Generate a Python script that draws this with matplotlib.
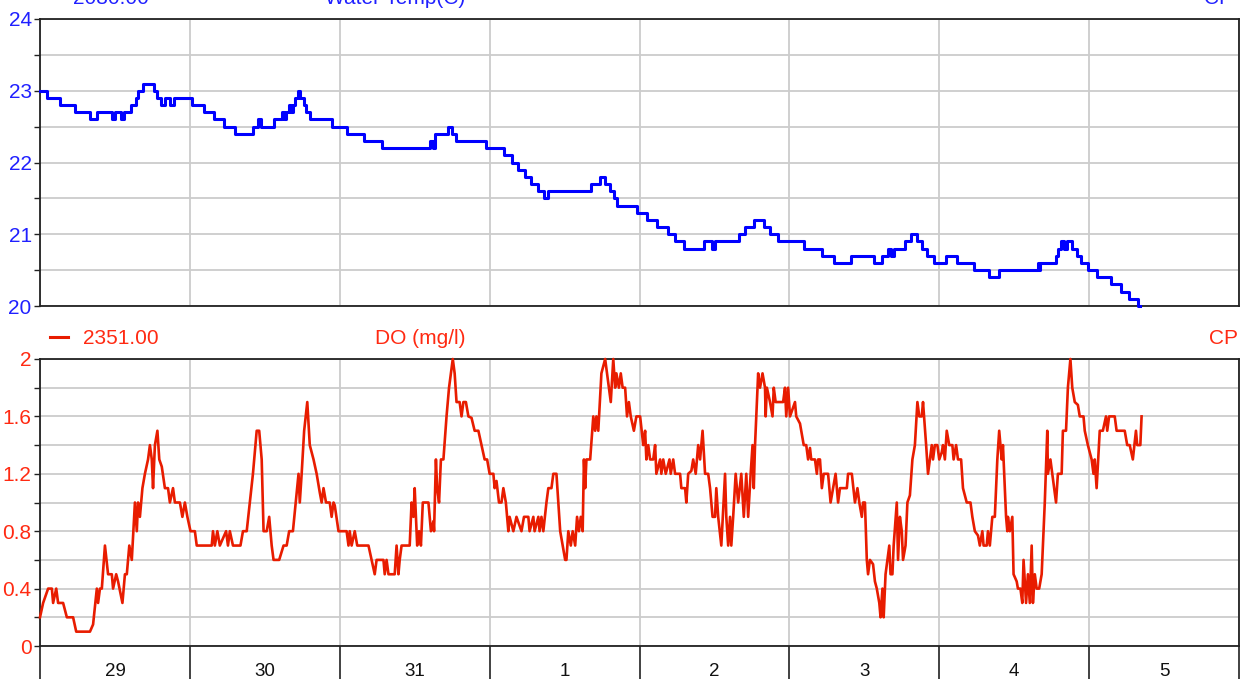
import matplotlib
matplotlib.use("Agg")
import matplotlib.pyplot as plt
import matplotlib.dates as mdates
import matplotlib.ticker as mticker
from matplotlib.lines import Line2D
import pandas as pd

plt.rcParams['font.family'] = ['Liberation Sans', 'DejaVu Sans']

# logger start (hours below are counted from here)
start = pd.Timestamp('2021-03-29 00:00')
end = pd.Timestamp('2021-04-06 00:00')

# Water temperature, value changes (steps)
temp_hours = [0.0, 1.1, 3.2, 5.6, 8.0, 9.1, 11.5, 12.0, 13.0, 13.4, 14.6, 15.4, 15.7,
              16.5, 18.3, 18.7, 19.4, 20.0, 20.8, 21.5, 24.3, 26.3, 27.9, 29.5, 31.2,
              34.1, 34.9, 35.4, 37.5, 38.7, 39.1, 39.4, 39.9, 40.2, 40.5, 40.8, 41.3,
              41.6, 42.3, 42.6, 43.2, 46.8, 49.2, 51.9, 54.8, 62.4, 62.9, 63.2, 65.3,
              66.0, 66.6, 71.4, 74.3, 75.6, 76.5, 77.7, 78.6, 79.7, 80.7, 81.3, 88.2,
              89.7, 90.5, 91.3, 91.9, 92.4, 95.6, 97.2, 98.8, 100.5, 101.7, 103.1,
              106.3, 107.6, 108.1, 111.9, 112.9, 114.3, 115.9, 116.9, 118.2, 122.3,
              125.2, 127.1, 129.8, 133.5, 134.8, 135.8, 136.3, 136.7, 138.5, 139.5,
              140.4, 141.2, 142.0, 143.1, 145.1, 146.8, 149.5, 151.9, 153.5, 159.8,
              159.9, 160.1, 162.7, 163.0, 163.5, 164.0, 164.4, 165.2, 166.0, 166.7,
              167.8, 169.2, 171.5, 173.1, 174.4, 175.9, 176.2]
temp_values = [23.0, 22.9, 22.8, 22.7, 22.6, 22.7, 22.6, 22.7, 22.6, 22.7, 22.8, 22.9, 23.0,
               23.1, 23.0, 22.9, 22.8, 22.9, 22.8, 22.9, 22.8, 22.7, 22.6, 22.5, 22.4,
               22.5, 22.6, 22.5, 22.6, 22.7, 22.6, 22.7, 22.8, 22.7, 22.8, 22.9, 23.0,
               22.9, 22.8, 22.7, 22.6, 22.5, 22.4, 22.3, 22.2, 22.3, 22.2, 22.4, 22.5,
               22.4, 22.3, 22.2, 22.1, 22.0, 21.9, 21.8, 21.7, 21.6, 21.5, 21.6, 21.7,
               21.8, 21.7, 21.6, 21.5, 21.4, 21.3, 21.2, 21.1, 21.0, 20.9, 20.8,
               20.9, 20.8, 20.9, 21.0, 21.1, 21.2, 21.1, 21.0, 20.9, 20.8,
               20.7, 20.6, 20.7, 20.6, 20.7, 20.8, 20.7, 20.8, 20.9, 21.0,
               20.9, 20.8, 20.7, 20.6, 20.7, 20.6, 20.5, 20.4, 20.5, 20.6,
               20.5, 20.6, 20.7, 20.8, 20.9, 20.8, 20.9, 20.8, 20.7, 20.6,
               20.5, 20.4, 20.3, 20.2, 20.1, 20.0, 20.0]

# Dissolved oxygen
do_hours = [0.0, 0.5, 1.3, 1.9, 2.1, 2.6, 2.9, 3.7, 4.3, 5.3, 5.8, 8.0, 8.5, 9.1, 9.3,
            9.6, 9.9, 10.4, 10.9, 11.5, 11.7, 12.2, 12.5, 13.2, 13.6, 13.9, 14.3, 14.7,
            15.2, 15.5, 15.7, 16.0, 16.4, 16.8, 17.3, 17.6, 17.9, 18.1, 18.4, 18.8,
            19.1, 19.5, 20.0, 20.5, 20.8, 21.3, 21.6, 22.4, 22.8, 23.2, 23.6, 24.1,
            24.8, 25.1, 27.5, 27.7, 28.0, 28.4, 28.8, 29.8, 30.1, 30.4, 30.9, 32.1,
            32.5, 33.1, 34.1, 34.7, 35.1, 35.5, 35.8, 36.3, 36.7, 37.1, 37.4, 38.3,
            39.0, 39.5, 39.9, 40.5, 41.4, 41.6, 41.9, 42.3, 42.8, 43.2, 43.8, 44.3,
            44.8, 45.1, 45.4, 45.8, 46.4, 46.7, 47.0, 47.2, 47.8, 49.1, 49.4, 49.6,
            49.9, 50.4, 50.8, 52.6, 53.1, 53.6, 53.9, 55.0, 55.2, 55.5, 55.8, 56.8,
            57.1, 57.4, 57.6, 57.9, 59.2, 59.5, 59.8, 60.0, 60.4, 60.7, 61.0, 61.3,
            62.2, 62.6, 63.0, 63.1, 63.4, 63.6, 63.9, 64.2, 64.6, 65.1, 65.5, 66.1,
            66.4, 66.7, 67.2, 67.5, 67.8, 68.2, 68.6, 69.1, 69.6, 70.2, 70.7, 71.2,
            71.6, 72.0, 72.6, 72.8, 73.1, 73.5, 73.9, 74.2, 74.6, 75.0, 75.2, 75.8,
            76.3, 77.1, 77.5, 78.2, 78.4, 79.0, 79.2, 79.8, 80.0, 80.3, 80.6, 81.1,
            81.4, 81.9, 82.2, 82.7, 83.3, 83.7, 84.1, 84.3, 84.6, 85.0, 85.3, 85.7,
            86.0, 86.3, 86.6, 86.9, 87.1, 87.3, 87.5, 88.1, 88.6, 88.9, 89.1, 89.4,
            89.9, 90.5, 90.8, 91.4, 91.8, 92.1, 92.3, 92.7, 93.0, 93.3, 93.7, 94.0,
            94.3, 94.6, 95.1, 95.5, 96.1, 96.6, 96.9, 97.1, 97.4, 97.7, 98.2, 98.5,
            98.7, 99.3, 99.5, 99.8, 100.2, 100.8, 101.0, 101.4, 101.7, 102.5, 102.7,
            103.3, 103.5, 103.8, 104.3, 104.6, 105.0, 105.4, 105.7, 106.1, 106.5,
            107.0, 107.3, 107.7, 108.1, 108.3, 108.6, 109.1, 109.7, 109.9, 110.2,
            110.5, 110.7, 111.0, 111.4, 111.8, 112.3, 112.7, 113.1, 113.4, 113.8,
            114.1, 114.3, 114.5, 115.0, 115.3, 115.7, 116.1, 116.2, 116.4, 116.9,
            117.3, 117.5, 117.8, 119.0, 119.3, 119.5, 119.8, 120.1, 120.9, 121.1,
            121.7, 121.9, 122.3, 122.7, 123.0, 123.3, 123.5, 124.1, 124.4, 124.6,
            124.9, 125.2, 125.5, 126.2, 126.6, 127.0, 127.4, 127.8, 128.1, 129.2,
            129.4, 130.0, 130.5, 130.9, 131.2, 131.6, 131.8, 132.1, 132.4, 132.6,
            132.9, 133.4, 133.7, 134.0, 134.4, 134.6, 134.9, 135.1, 135.4, 135.7,
            136.0, 136.2, 136.5, 136.7, 137.2, 137.4, 137.7, 138.0, 138.2, 138.6,
            138.9, 139.3, 139.7, 140.1, 140.5, 140.8, 141.2, 141.4, 141.9, 142.2,
            142.5, 142.8, 143.0, 143.3, 143.7, 144.0, 144.4, 144.6, 144.9, 145.2,
            145.6, 146.1, 146.3, 146.7, 147.0, 147.5, 147.8, 148.4, 149.0, 149.3,
            149.7, 150.2, 150.5, 150.9, 151.1, 151.6, 151.8, 152.1, 152.5, 152.9,
            153.3, 153.6, 154.0, 154.2, 154.7, 154.9, 155.0, 155.3, 155.7, 155.9,
            156.4, 156.6, 157.0, 157.3, 157.5, 157.9, 158.2, 158.5, 158.8, 159.0,
            159.3, 159.6, 160.0, 160.4, 160.9, 161.3, 161.4, 161.8, 162.1, 162.7,
            163.0, 163.6, 163.8, 164.3, 164.6, 165.0, 165.3, 165.7, 166.2, 166.5,
            167.1, 167.3, 167.8, 168.4, 168.7, 168.9, 169.2, 169.7, 170.2, 170.7,
            170.9, 171.2, 172.1, 172.4, 173.7, 174.1, 174.5, 175.0, 175.5, 175.7,
            176.2, 176.4]
do_values = [0.2, 0.3, 0.4, 0.4, 0.3, 0.4, 0.3, 0.3, 0.2, 0.2, 0.1, 0.1, 0.15, 0.4, 0.3,
             0.4, 0.4, 0.7, 0.5, 0.5, 0.4, 0.5, 0.45, 0.3, 0.5, 0.5, 0.7, 0.6,
             1.0, 0.8, 1.0, 0.9, 1.1, 1.2, 1.3, 1.4, 1.3, 1.1, 1.4, 1.5,
             1.3, 1.25, 1.1, 1.1, 1.0, 1.1, 1.0, 1.0, 0.9, 1.0, 0.9, 0.8,
             0.8, 0.7, 0.7, 0.8, 0.7, 0.8, 0.7, 0.8, 0.7, 0.8, 0.7, 0.7,
             0.8, 0.8, 1.2, 1.5, 1.5, 1.3, 0.8, 0.8, 0.9, 0.7, 0.6, 0.6,
             0.7, 0.7, 0.8, 0.8, 1.2, 1.0, 1.2, 1.5, 1.7, 1.4, 1.3, 1.2,
             1.07, 1.0, 1.1, 1.0, 1.0, 0.9, 1.0, 0.98, 0.8, 0.8, 0.7, 0.8,
             0.7, 0.8, 0.7, 0.7, 0.6, 0.5, 0.6, 0.6, 0.5, 0.6, 0.5, 0.5,
             0.7, 0.5, 0.6, 0.7, 0.7, 1.0, 0.9, 1.1, 0.7, 0.8, 0.7, 1.0,
             1.0, 0.8, 0.87, 0.8, 1.3, 1.1, 1.0, 1.3, 1.3, 1.6, 1.8, 2.0,
             1.9, 1.7, 1.7, 1.6, 1.7, 1.7, 1.6, 1.59, 1.5, 1.5, 1.4, 1.3,
             1.3, 1.2, 1.2, 1.1, 1.15, 1.0, 1.0, 1.1, 1.0, 0.8, 0.9, 0.8,
             0.9, 0.8, 0.9, 0.9, 0.8, 0.9, 0.8, 0.9, 0.8, 0.9, 0.8, 1.0,
             1.1, 1.1, 1.2, 1.2, 0.8, 0.7, 0.6, 0.6, 0.8, 0.7, 0.8, 0.7,
             0.9, 0.8, 0.9, 0.8, 1.3, 1.1, 1.3, 1.3, 1.6, 1.5, 1.6, 1.5,
             1.9, 2.0, 1.9, 1.7, 2.0, 1.8, 1.9, 1.8, 1.9, 1.8, 1.8, 1.6,
             1.7, 1.6, 1.5, 1.6, 1.6, 1.4, 1.5, 1.3, 1.4, 1.3, 1.3, 1.4,
             1.2, 1.3, 1.2, 1.3, 1.2, 1.3, 1.2, 1.3, 1.2, 1.2, 1.1,
             1.1, 1.0, 1.2, 1.22, 1.3, 1.2, 1.4, 1.3, 1.5, 1.2,
             1.2, 1.1, 0.9, 0.9, 1.1, 0.9, 0.7, 1.2, 0.9, 0.7,
             0.9, 0.7, 0.9, 1.2, 1.0, 1.2, 0.9, 1.2, 0.9, 1.2,
             1.4, 1.1, 1.4, 1.9, 1.8, 1.9, 1.8, 1.6, 1.8, 1.7,
             1.6, 1.8, 1.7, 1.7, 1.8, 1.6, 1.8, 1.6, 1.7, 1.6,
             1.55, 1.5, 1.4, 1.4, 1.3, 1.38, 1.3, 1.3, 1.2, 1.3,
             1.3, 1.1, 1.2, 1.2, 1.0, 1.1, 1.2, 1.0, 1.1, 1.1,
             1.2, 1.2, 1.0, 1.1, 1.0, 0.9, 1.0, 1.0, 0.6, 0.5,
             0.6, 0.57, 0.45, 0.4, 0.3, 0.2, 0.4, 0.2, 0.5, 0.6,
             0.7, 0.5, 0.5, 0.7, 1.0, 0.6, 0.9, 0.8, 0.6, 0.7,
             1.0, 1.05, 1.3, 1.4, 1.7, 1.6, 1.6, 1.7, 1.4, 1.2,
             1.3, 1.4, 1.3, 1.4, 1.4, 1.3, 1.35, 1.4, 1.3, 1.5,
             1.4, 1.4, 1.3, 1.4, 1.3, 1.3, 1.1, 1.0, 1.0, 0.9,
             0.8, 0.77, 0.7, 0.8, 0.7, 0.7, 0.8, 0.7, 0.9, 0.9,
             1.3, 1.5, 1.3, 1.4, 0.9, 0.8, 0.9, 0.8, 0.9, 0.5,
             0.45, 0.4, 0.4, 0.3, 0.6, 0.3, 0.5, 0.3, 0.7, 0.3,
             0.5, 0.4, 0.4, 0.5, 1.0, 1.5, 1.2, 1.3, 1.2, 1.0,
             1.2, 1.2, 1.5, 1.5, 1.8, 2.0, 1.8, 1.7, 1.68, 1.6,
             1.6, 1.5, 1.4, 1.3, 1.2, 1.3, 1.1, 1.5, 1.5, 1.6,
             1.5, 1.6, 1.6, 1.5, 1.5, 1.4, 1.4, 1.3, 1.5, 1.4,
             1.4, 1.6]

temp_times = start + pd.to_timedelta(temp_hours, unit='h')
do_times = start + pd.to_timedelta(do_hours, unit='h')

blue = '#0000ff'
blue_text = '#2020ff'
red = '#e81c00'
red_text = '#ff2a12'
grid_col = '#cccccc'

W, H = 1241, 680
fig = plt.figure(figsize=(W / 100, H / 100), dpi=100)
ax1 = fig.add_axes([40 / W, 1 - 306 / H, 1199 / W, 287 / H])
ax2 = fig.add_axes([40 / W, 1 - 646 / H, 1199 / W, 287 / H])

ax1.plot(temp_times, temp_values, color=blue, lw=2.2, drawstyle='steps-post',
         clip_on=False, zorder=3)
ax2.plot(do_times, do_values, color=red, lw=1.9, clip_on=False, zorder=3)

ax1.set_ylim(20, 24)
ax1.yaxis.set_major_locator(mticker.MultipleLocator(1))
ax1.yaxis.set_minor_locator(mticker.MultipleLocator(0.5))
ax1.yaxis.set_major_formatter(mticker.FormatStrFormatter('%d'))

ax2.set_ylim(0, 2)
ax2.yaxis.set_major_locator(mticker.MultipleLocator(0.4))
ax2.yaxis.set_minor_locator(mticker.MultipleLocator(0.2))
ax2.yaxis.set_major_formatter(
    mticker.FuncFormatter(lambda v, p: '%g' % round(v, 1)))

for ax, tcol in ((ax1, blue_text), (ax2, red_text)):
    ax.set_xlim(start, end)
    ax.xaxis.set_major_locator(mdates.DayLocator())
    ax.xaxis.set_minor_locator(mdates.HourLocator(byhour=12))
    ax.grid(True, which='major', axis='x', color=grid_col, lw=1.3)
    ax.grid(True, which='both', axis='y', color=grid_col, lw=1.3)
    ax.set_axisbelow(True)
    for s in ax.spines.values():
        s.set_color('#222222')
        s.set_linewidth(1.3)
    ax.tick_params(axis='y', which='both', direction='out', length=4, width=1,
                   color='#222222', pad=2, labelsize=15, labelcolor=tcol)

ax1.tick_params(axis='x', which='both', length=0, labelbottom=False)

ax2.xaxis.set_major_formatter(mticker.NullFormatter())
ax2.xaxis.set_minor_formatter(
    mticker.FuncFormatter(lambda v, p: str(mdates.num2date(v).day)))
ax2.tick_params(axis='x', which='major', direction='out', length=24, width=1.3,
                color='#333333')
ax2.tick_params(axis='x', which='minor', length=0, pad=12, labelsize=13.5,
                labelcolor='#111111')


def px(x, y):
    return x / W, 1 - y / H


# channel headers above each panel
fig.add_artist(Line2D([40 / W, 58 / W], [1 + 2 / H, 1 + 2 / H], color=blue, lw=2.2))
fig.text(*px(73, 4.5), '2080.00', color=blue_text, fontsize=15, va='baseline')
fig.text(*px(325, 4.5), 'Water Temp(C)', color=blue_text, fontsize=15, va='baseline')
fig.text(*px(1233, 4.5), 'CP', color=blue_text, fontsize=15, va='baseline', ha='right')

fig.add_artist(Line2D([50 / W, 68 / W], [1 - 337 / H, 1 - 337 / H], color=red, lw=2.2))
fig.text(*px(83, 344), '2351.00', color=red_text, fontsize=15, va='baseline')
fig.text(*px(375, 344), 'DO (mg/l)', color=red_text, fontsize=15, va='baseline')
fig.text(*px(1238, 344), 'CP', color=red_text, fontsize=15, va='baseline', ha='right')

fig.savefig('out.png', dpi=100)
